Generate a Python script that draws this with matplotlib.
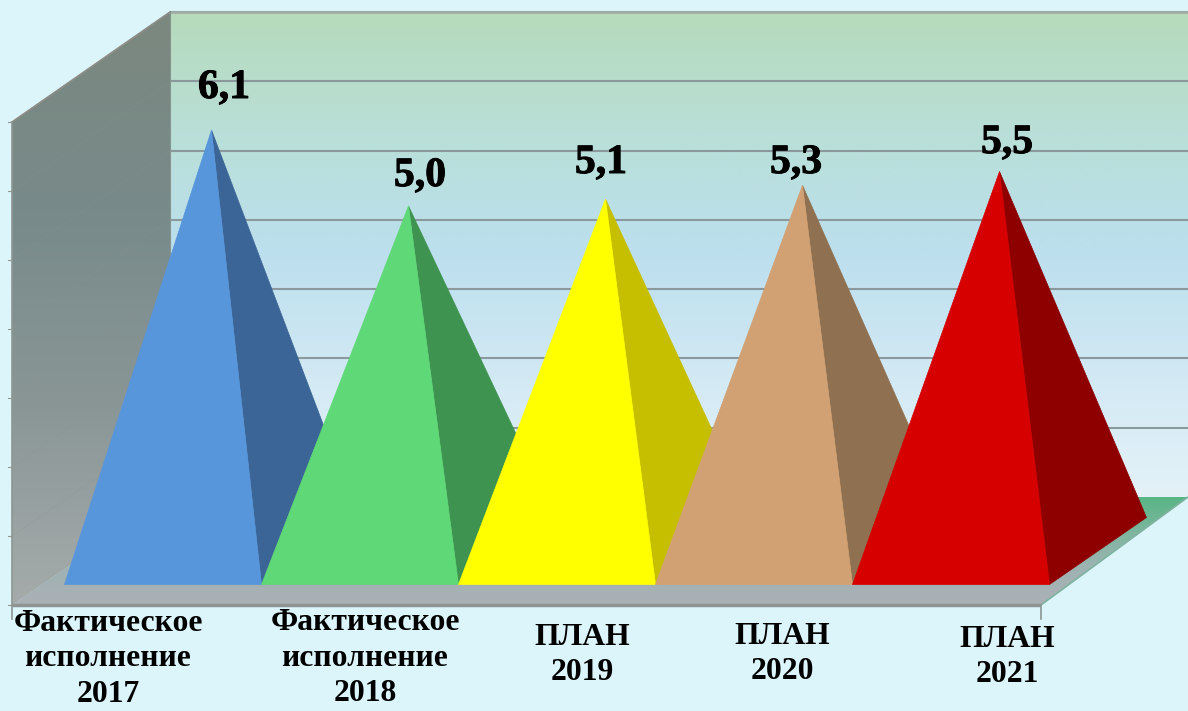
import numpy as np
import matplotlib
matplotlib.use("Agg")
import matplotlib.pyplot as plt
import matplotlib.patheffects as pe
from matplotlib.colors import LinearSegmentedColormap
from matplotlib.patches import Polygon

categories = ["Фактическое\nисполнение\n2017", "Фактическое\nисполнение\n2018",
              "ПЛАН\n2019", "ПЛАН\n2020", "ПЛАН\n2021"]
values = [6.1, 5.0, 5.1, 5.3, 5.5]
value_labels = ["6,1", "5,0", "5,1", "5,3", "5,5"]
front_colors = ["#5896dc", "#5fd877", "#ffff00", "#d2a173", "#d60000"]
side_colors = ["#3b6596", "#3f9350", "#c6bf00", "#8f7050", "#8e0000"]
grid_values = list(range(0, 8))

W, H = 1188, 711
PX_X, X0 = 197.0, 163.0
PX_Y, Y0 = 69.0, 551.0
BG = "#dcf5fa"

def px_x(p): return (p - X0) / PX_X
def px_y(p): return (Y0 - p) / PX_Y

plt.rcParams["font.family"] = ["Liberation Serif", "DejaVu Serif"]
fig = plt.figure(figsize=(W / 100, H / 100), dpi=100, facecolor=BG)
ax = fig.add_axes([0, 0, 1, 1])
ax.set_xlim(px_x(0), px_x(W))
ax.set_ylim(px_y(H), px_y(0))
ax.axis("off")

# Box geometry
wall_l, wall_r = px_x(170), px_x(W)
back_0, back_top = px_y(497), px_y(12)
front_l, front_r = px_x(12), px_x(1041)
front_0, front_top = px_y(605), px_y(122)

def gradient(poly, stops, z):
    cmap = LinearSegmentedColormap.from_list("g", stops)
    xs = [p[0] for p in poly]
    ys = [p[1] for p in poly]
    grad = np.linspace(0, 1, 256)[:, None]
    im = ax.imshow(grad, cmap=cmap, aspect="auto", zorder=z, origin="upper",
                   extent=(min(xs), max(xs), min(ys), max(ys)), interpolation="bilinear")
    patch = Polygon(poly, closed=True, transform=ax.transData, fc="none", ec="none")
    ax.add_patch(patch)
    im.set_clip_path(patch)

# back wall
gradient([(wall_l, back_top), (wall_r, back_top), (wall_r, back_0), (wall_l, back_0)],
         ["#b6dabb", "#b9dfd8", "#bcdfee", "#d2e9f4", "#e4f2f8"], 1)
# left wall
gradient([(front_l, front_top), (wall_l, back_top), (wall_l, back_0), (front_l, front_0)],
         ["#7b887f", "#788a8a", "#8a9696", "#a5abab"], 2)
# floor
gradient([(wall_l, back_0), (wall_r, back_0), (front_r, front_0), (front_l, front_0)],
         ["#58b585", "#7eb6a0", "#9fb3b3", "#abb0b5"], 3)

for g in grid_values:
    off = g * (back_top - back_0) / 7
    if g > 0:
        ax.plot([wall_l, wall_r], [back_0 + off] * 2, color="#8a9a9c", lw=1.5, zorder=1.5,
                solid_capstyle="butt")
    off_f = g * (front_top - front_0) / 7
    ax.plot([front_l, wall_l], [front_0 + off_f, back_0 + off], color="#8b9693", lw=0.5,
            alpha=0.3, zorder=2.5)
    ax.plot([front_l - 0.02, front_l], [front_0 + off_f] * 2, color="#8f9a98", lw=0.8, zorder=2.5)

ax.plot([wall_l, wall_r], [back_top, back_top], color="#a0ada6", lw=2.0, zorder=2.6)
ax.plot([wall_l, wall_l], [back_0, back_top], color="#86968f", lw=0.8, zorder=2.6)
ax.plot([front_l, wall_l], [front_top, back_top], color="#8e8e88", lw=1.2, zorder=2.6)
ax.plot([front_l, front_l], [front_0, front_top], color="#8e9692", lw=1.2, zorder=2.6)
ax.plot([front_l, front_r], [front_0, front_0], color="#8e9494", lw=2.5, zorder=3.5,
        solid_capstyle="butt")
ax.plot([front_r, wall_r], [front_0, back_0], color="#7fb3a0", lw=1.2, zorder=3.5)
for x in (front_l, front_r):
    ax.plot([x, x], [front_0, px_y(619)], color="#8e9494", lw=1.2, zorder=3.5)

# Pyramids
half = 0.5
dx, dy = 97 / PX_X, 67 / PX_Y
base_front = -dy / 2
for i, v in enumerate(values):
    apex = (i + dx / 2, v)
    fl = (i - half, base_front)
    fr = (i + half, base_front)
    br = (i + half + dx, base_front + dy)
    z = 5 + i
    ax.add_patch(Polygon([fr, br, apex], closed=True, fc=side_colors[i], ec=side_colors[i],
                         lw=0.5, zorder=z))
    ax.add_patch(Polygon([fl, fr, apex], closed=True, fc=front_colors[i], ec=front_colors[i],
                         lw=0.5, zorder=z + 0.5))

# Text
bold = [pe.withStroke(linewidth=0.7, foreground="black")]
val_px = [(224, 88), (420, 176), (601, 163), (796, 163), (1007, 143)]
cat_px = [(108, 659), (365, 658), (582, 655), (782, 654), (1007, 657)]
for lab, (x, y) in zip(value_labels, val_px):
    ax.text(px_x(x), px_y(y), lab, ha="center", va="center", fontsize=30, fontweight="bold",
            color="black", zorder=20, path_effects=bold)
for lab, (x, y) in zip(categories, cat_px):
    ax.text(px_x(x), px_y(y), lab, ha="center", va="center", fontsize=22.8, fontweight="bold",
            color="black", linespacing=1.3, zorder=20, multialignment="center")

ax.set_xlim(px_x(0), px_x(W))
ax.set_ylim(px_y(H), px_y(0))
fig.savefig("out.png", dpi=100, facecolor=BG)
